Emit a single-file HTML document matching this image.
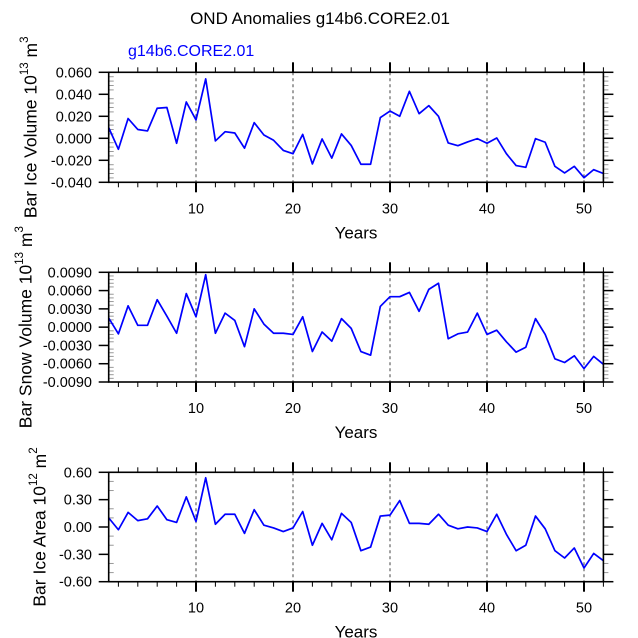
<!DOCTYPE html>
<html><head><meta charset="utf-8"><style>
html,body{margin:0;padding:0;background:#fff;}
svg{display:block;font-family:"Liberation Sans",Arial,sans-serif;}
</style></head><body>
<svg id="chart" width="638" height="638" viewBox="0 0 638 638" xmlns="http://www.w3.org/2000/svg">
<text x="320" y="24" font-size="17" text-anchor="middle" fill="#000">OND Anomalies g14b6.CORE2.01</text>
<text x="128" y="56" font-size="16" fill="#0000ff">g14b6.CORE2.01</text>
</svg>
<script>
const years = [];
for (let i = 1; i <= 52; i++) years.push(i);
const iceVolume = [0.0097,-0.010,0.018,0.008,0.0067,0.0273,0.028,-0.0045,0.033,0.0167,0.054,-0.0024,0.006,0.0048,-0.009,0.0142,0.003,-0.0018,-0.011,-0.014,0.0036,-0.0233,-0.0006,-0.018,0.004,-0.0065,-0.0236,-0.0236,0.0188,0.0248,0.020,0.0427,0.0224,0.0297,0.020,-0.0042,-0.0067,-0.0033,-0.0003,-0.0045,0.0003,-0.014,-0.0248,-0.0264,-0.0003,-0.0036,-0.0255,-0.0315,-0.0255,-0.0358,-0.0285,-0.032];
const snowVolume = [0.0015,-0.0011,0.0035,0.0003,0.0003,0.0045,0.0018,-0.0010,0.0055,0.0017,0.0086,-0.0010,0.0023,0.0011,-0.0032,0.0030,0.0005,-0.0010,-0.0010,-0.0012,0.0017,-0.0040,-0.0008,-0.0023,0.0014,-0.0002,-0.0040,-0.0046,0.0034,0.0050,0.0050,0.0057,0.0026,0.0062,0.0072,-0.0019,-0.0011,-0.0008,0.0023,-0.0012,-0.0005,-0.0024,-0.0041,-0.0033,0.0014,-0.0012,-0.0052,-0.0058,-0.0047,-0.0068,-0.0048,-0.0061];
const iceArea = [0.10,-0.03,0.16,0.07,0.09,0.23,0.08,0.05,0.33,0.06,0.54,0.03,0.14,0.14,-0.07,0.19,0.02,-0.01,-0.05,-0.01,0.17,-0.20,0.04,-0.14,0.15,0.05,-0.26,-0.22,0.12,0.13,0.29,0.04,0.04,0.03,0.14,0.02,-0.02,0.00,-0.01,-0.05,0.14,-0.08,-0.26,-0.20,0.12,-0.02,-0.26,-0.34,-0.23,-0.45,-0.29,-0.37];
const xTicks = [10,20,30,40,50];
const iceVolTicks = ["0.060","0.040","0.020","0.000","-0.020","-0.040"];
const snowTicks = ["0.0090","0.0060","0.0030","0.0000","-0.0030","-0.0060","-0.0090"];
const areaTicks = ["0.60","0.30","0.00","-0.30","-0.60"];

const NS = "http://www.w3.org/2000/svg";
const svg = document.getElementById("chart");
const X0 = 108.7, X1 = 603.4, XMIN = 1, XMAX = 52;
function xs(v){ return X0 + (v - XMIN) / (XMAX - XMIN) * (X1 - X0); }
function mk(tag, attrs, parent){
  const e = document.createElementNS(NS, tag);
  for (const k in attrs) e.setAttribute(k, attrs[k]);
  (parent || svg).appendChild(e);
  return e;
}

function panel(key, top, bottom, ymin, ymax, labels, minorDiv, data, titleHTML, titleX){
  const g = mk("g", {});
  
  
  const ys = v => bottom - (v - ymin) / (ymax - ymin) * (bottom - top);
  xTicks.forEach(t => {
    const l = mk("line", {x1: xs(t), x2: xs(t), y1: top, y2: bottom, stroke: "#444", "stroke-width": 1, "stroke-dasharray": "3,3"}, g);
    
    
  });
  for (let yv = 2; yv <= 52; yv += 2) {
    const major = yv % 10 === 0;
    const len = major ? 10 : 5;
    mk("line", {x1: xs(yv), x2: xs(yv), y1: top, y2: top - len, stroke: "#000", "stroke-width": major ? 2 : 1}, g);
    mk("line", {x1: xs(yv), x2: xs(yv), y1: bottom, y2: bottom + len, stroke: "#000", "stroke-width": major ? 2 : 1}, g);
  }
  xTicks.forEach(t => {
    const tx = mk("text", {x: xs(t), y: bottom + 31, "font-size": 14.5, "text-anchor": "middle"}, g);
    tx.textContent = t;
    
    
  });
  const n = labels.length - 1;
  for (let i = 0; i <= n; i++) {
    const v = ymax - i * (ymax - ymin) / n;
    const y = ys(v);
    mk("line", {x1: X0, x2: X0 - 10, y1: y, y2: y, stroke: "#000", "stroke-width": 1.5}, g);
    mk("line", {x1: X1, x2: X1 + 10, y1: y, y2: y, stroke: "#000", "stroke-width": 1.5}, g);
    const tx = mk("text", {x: 92, y: y + 5, "font-size": 14.5, "text-anchor": "end"}, g);
    tx.textContent = labels[i];
    
    
    if (i < n) {
      for (let j = 1; j < minorDiv; j++) {
        const ym = y + j * (bottom - top) / n / minorDiv;
        mk("line", {x1: X0, x2: X0 + 5, y1: ym, y2: ym, stroke: "#999", "stroke-width": 1}, g);
        mk("line", {x1: X1, x2: X1 + 5, y1: ym, y2: ym, stroke: "#999", "stroke-width": 1}, g);
      }
    }
  }
  const pts = data.map((v, i) => xs(years[i]).toFixed(2) + "," + ys(v).toFixed(2)).join(" ");
  const pl = mk("polyline", {points: pts, fill: "none", stroke: "#0000ff", "stroke-width": 1.7, "stroke-linejoin": "round"}, g);
  
  
  const fr = mk("rect", {x: X0, y: top, width: X1 - X0, height: bottom - top, fill: "none", stroke: "#000", "stroke-width": 1.6}, g);
  
  
  const xt = mk("text", {x: 356, y: bottom + 56, "font-size": 17, "text-anchor": "middle"}, g);
  xt.textContent = "Years";
  
  
  const cy = (top + bottom) / 2;
  const yt = mk("text", {x: titleX, y: cy, "font-size": 17.5, "text-anchor": "middle", transform: "rotate(-90 " + titleX + " " + cy + ")", "dominant-baseline": "middle"}, g);
  yt.innerHTML = titleHTML;
  
  
}

panel("ice-volume", 72.3, 182.3, -0.04, 0.06, iceVolTicks, 5, iceVolume,
  'Bar Ice Volume 10<tspan dy="-7" font-size="11.5">13</tspan><tspan dy="7"> m</tspan><tspan dy="-7" font-size="11.5">3</tspan>', 32);
panel("snow-volume", 272.3, 382, -0.009, 0.009, snowTicks, 5, snowVolume,
  'Bar Snow Volume 10<tspan dy="-7" font-size="11.5">13</tspan><tspan dy="7"> m</tspan><tspan dy="-7" font-size="11.5">3</tspan>', 27);
panel("ice-area", 472.3, 581.7, -0.6, 0.6, areaTicks, 3, iceArea,
  'Bar Ice Area 10<tspan dy="-7" font-size="11.5">12</tspan><tspan dy="7"> m</tspan><tspan dy="-7" font-size="11.5">2</tspan>', 41);
</script>
</body></html>
